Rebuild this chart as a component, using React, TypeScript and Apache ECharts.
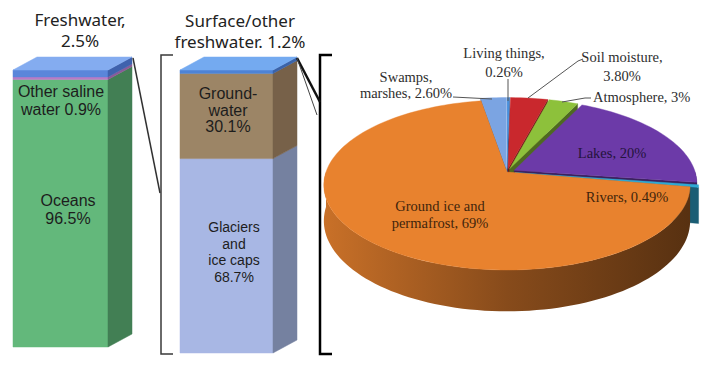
import React, { useEffect, useRef } from "react";
import * as echarts from "echarts";

// ---------- data ----------
const leftCats = ["Oceans", "Other saline water", "Freshwater"];
const leftValues = [96.5, 0.9, 2.5];
const leftLabels = ["Oceans\n96.5%", "Other saline\nwater 0.9%"];

const midCats = ["Glaciers and ice caps", "Ground-water", "Surface/other freshwater"];
const midValues = [68.7, 30.1, 1.2];
const midLabels = ["Glaciers\nand\nice caps\n68.7%", "Ground-\nwater\n30.1%"];

const titles = ["Freshwater,\n2.5%", "Surface/other\nfreshwater. 1.2%"];

const pieNames = [
  "Living things",
  "Soil moisture",
  "Atmosphere",
  "Lakes",
  "Rivers",
  "Ground ice and permafrost",
  "Swamps, marshes",
];
const pieValues = [0.26, 3.8, 3, 20, 0.49, 69, 2.6];
const pieLabels = [
  "Living things,\n0.26%",
  "Soil moisture,\n3.80%",
  "Atmosphere, 3%",
  "Lakes, 20%",
  "Rivers, 0.49%",
  "Ground ice and\npermafrost, 69%",
  "Swamps,\nmarshes, 2.60%",
];

// ---------- styles ----------
const leftFront = ["#63b87b", "#b77cc6", "#5a86da"];
const leftSide = ["#427f54", "#8a5a98", "#3f62ad"];
const leftTop = "#84acf0";
const midFront = ["#a8b7e4", "#9c8566", "#4d83d6"];
const midSide = ["#7581a0", "#776149", "#3b63a8"];
const midTop = "#74aaf0";
const pieColors = ["#4a90dc", "#c9282d", "#8dc13b", "#6c3aa8", "#2fa9d3", "#e8822e", "#7ba4e2"];
const pieExplode = [0.04, 0.04, 0.04, 0.045, 0.045, 0, 0.04];

const PC = { cx: 507, cy: 172, rx: 181, ry: 83, h: 35, k: 0.153 };

function stack(values: number[]) {
  let acc = 0;
  return values.map((v, i) => {
    const s = acc;
    acc += v;
    return [0, s, acc, i];
  });
}
const sum = (a: number[]) => a.reduce((x, y) => x + y, 0);

function shade(hex: string, f: number) {
  const n = parseInt(hex.slice(1), 16);
  const r = Math.round(((n >> 16) & 255) * f);
  const g = Math.round(((n >> 8) & 255) * f);
  const b = Math.round((n & 255) * f);
  return `rgb(${r},${g},${b})`;
}

function barRender(front: string[], side: string[], topColor: string, n: number) {
  return (params: any, api: any) => {
    const s = api.value(1);
    const e = api.value(2);
    const i = api.value(3);
    const p0 = api.coord([0, s]);
    const p1 = api.coord([1, e]);
    const xl = p0[0], yb = p0[1], xr = p1[0], yt = p1[1];
    const dx = 24, dy = -13;
    const children: any[] = [
      {
        type: "polygon",
        shape: { points: [[xl, yb], [xr, yb], [xr, yt], [xl, yt]] },
        style: { fill: front[i], stroke: front[i], lineWidth: 0.5 },
      },
      {
        type: "polygon",
        shape: { points: [[xr, yb], [xr + dx, yb + dy], [xr + dx, yt + dy], [xr, yt]] },
        style: { fill: side[i], stroke: side[i], lineWidth: 0.5 },
      },
    ];
    if (i === n - 1) {
      children.push({
        type: "polygon",
        shape: { points: [[xl, yt], [xr, yt], [xr + dx, yt + dy], [xl + dx, yt + dy]] },
        style: { fill: topColor, stroke: topColor, lineWidth: 0.5 },
      });
    }
    return { type: "group", children };
  };
}

function proj(u: number, v: number, d: number) {
  const w = 1 + PC.k * v;
  return [PC.cx + (PC.rx * u) / w, PC.cy + (-PC.ry * v + PC.h * d) / w];
}

function pieRender(params: any, api: any) {
  const T = Math.PI * 2;
  const a0 = api.value(0) * T;
  const a1 = api.value(1) * T;
  const i = api.value(2);
  const base = pieColors[i];
  const m = (a0 + a1) / 2;
  const e = pieExplode[i];
  const ou = e * Math.sin(m);
  const ov = e * Math.cos(m);
  const rim = (t: number, d: number) => proj(ou + Math.sin(t), ov + Math.cos(t), d);
  const ctr = (d: number) => proj(ou, ov, d);
  const stepA = Math.PI / 90;
  const steps = Math.max(2, Math.ceil((a1 - a0) / stepA));
  const children: any[] = [];
  const topPts: number[][] = [ctr(0)];
  for (let j = 0; j <= steps; j++) topPts.push(rim(a0 + ((a1 - a0) * j) / steps, 0));
  children.push({
    type: "polygon",
    z2: 1000,
    shape: { points: topPts },
    style: { fill: base, stroke: base, lineWidth: 0.4 },
  });
  // outer wall (visible front part only), smooth horizontal shading
  const ts = Math.max(a0, Math.PI / 2);
  const te = Math.min(a1, (3 * Math.PI) / 2);
  if (te > ts) {
    const n = Math.max(2, Math.ceil((te - ts) / stepA));
    const pts: number[][] = [];
    for (let j = 0; j <= n; j++) pts.push(rim(ts + ((te - ts) * j) / n, 0));
    for (let j = n; j >= 0; j--) pts.push(rim(ts + ((te - ts) * j) / n, 1));
    const tm = (ts + te) / 2;
    children.push({
      type: "polygon",
      z2: 500 + Math.round(-(ov + Math.cos(tm)) * 100),
      shape: { points: pts },
      style: {
        fill: {
          type: "linear",
          x: PC.cx - PC.rx,
          y: 0,
          x2: PC.cx + PC.rx,
          y2: 0,
          global: true,
          colorStops: [
            { offset: 0, color: shade(base, 0.86) },
            { offset: 0.5, color: shade(base, 0.58) },
            { offset: 1, color: shade(base, 0.38) },
          ],
        },
      },
    });
  }
  // radial faces
  const faceCol = shade(base, 0.55);
  if (Math.sin(a0) < 0) {
    children.push({
      type: "polygon",
      z2: 500 + Math.round(-(ov + Math.cos(a0) / 2) * 100),
      shape: { points: [ctr(0), rim(a0, 0), rim(a0, 1), ctr(1)] },
      style: { fill: faceCol, stroke: faceCol, lineWidth: 0.4 },
    });
  }
  if (Math.sin(a1) > 0) {
    children.push({
      type: "polygon",
      z2: 500 + Math.round(-(ov + Math.cos(a1) / 2) * 100),
      shape: { points: [ctr(0), rim(a1, 0), rim(a1, 1), ctr(1)] },
      style: { fill: faceCol, stroke: faceCol, lineWidth: 0.4 },
    });
  }
  return { type: "group", children };
}

function buildOption() {
  const leftTotal = sum(leftValues);
  const midTotal = sum(midValues);
  const pieTotal = sum(pieValues);
  let acc = 0;
  const pieData = pieValues.map((v, i) => {
    const s = acc / pieTotal;
    acc += v;
    return { name: pieNames[i], value: [s, acc / pieTotal, i] };
  });

  const sans = '"Liberation Sans", Arial, sans-serif';
  const serif = '"Liberation Serif", serif';
  const titleFont = '17px "Noto Sans", sans-serif';

  const txt = (text: string, x: number, y: number, font: string, fill: string, lineHeight: number, align = "center") => ({
    type: "text",
    z: 100,
    x,
    y,
    style: {
      text,
      font,
      fill,
      lineHeight,
      textAlign: align,
      textVerticalAlign: "middle",
    },
  });

  const graphic: any[] = [
    txt(titles[0], 80, 30, titleFont, "#222", 21),
    txt(titles[1], 240, 31, titleFont, "#222", 21),
    txt(leftLabels[1], 61, 100, "16px " + sans, "#1d1d1d", 18),
    txt(leftLabels[0], 68, 209, "16px " + sans, "#1d1d1d", 18),
    txt(midLabels[1], 228, 110, "16px " + sans, "#1d1d1d", 16.5),
    txt(midLabels[0], 234, 252, "14px " + sans, "#1d1d1d", 16.5),
    // pie labels
    txt(pieLabels[0], 504, 62, "14.5px " + serif, "#2e2e2e", 19),
    txt(pieLabels[1], 622, 66, "14.5px " + serif, "#2e2e2e", 19),
    txt(pieLabels[2], 593, 97, "14.5px " + serif, "#2e2e2e", 18, "left"),
    txt(pieLabels[3], 612, 153, "14.5px " + serif, "#24143c", 18),
    txt(pieLabels[4], 627, 197, "14.5px " + serif, "#42250c", 18),
    txt(pieLabels[5], 440, 214, "14.5px " + serif, "#42250c", 17),
    txt(pieLabels[6], 406, 85, "14.5px " + serif, "#2e2e2e", 16.5),
    // leader lines
    { type: "line", z: 100, shape: { x1: 508, y1: 79, x2: 508, y2: 101 }, style: { stroke: "#555", lineWidth: 1 } },
    { type: "polyline", z: 100, shape: { points: [[583, 59], [578, 61], [528, 98]] }, style: { stroke: "#555", lineWidth: 1, fill: null } },
    { type: "polyline", z: 100, shape: { points: [[591, 98], [585, 98], [562, 102]] }, style: { stroke: "#555", lineWidth: 1, fill: null } },
    { type: "line", z: 100, shape: { x1: 453, y1: 97, x2: 492, y2: 99 }, style: { stroke: "#555", lineWidth: 1 } },
    // brackets
    { type: "polyline", z: 100, shape: { points: [[173, 55], [161, 55], [161, 354], [173, 354]] }, style: { stroke: "#3a3a3a", lineWidth: 1.5, fill: null } },
    { type: "polyline", z: 100, shape: { points: [[332, 55], [320, 55], [320, 354], [332, 354]] }, style: { stroke: "#000", lineWidth: 2.5, fill: null } },
    // connectors
    { type: "line", z: 100, shape: { x1: 133, y1: 58, x2: 160, y2: 193 }, style: { stroke: "#333", lineWidth: 1.5 } },
    { type: "line", z: 100, shape: { x1: 297, y1: 58, x2: 320, y2: 102 }, style: { stroke: "#111", lineWidth: 2.5 } },
    { type: "line", z: 100, shape: { x1: 297, y1: 58, x2: 317, y2: 115 }, style: { stroke: "#444", lineWidth: 1 } },
  ];

  const hiddenAxis = (gridIndex: number, min: number, max: number) => ({
    type: "value",
    gridIndex,
    min,
    max,
    show: false,
    splitLine: { show: false },
  });

  return {
    animation: false,
    backgroundColor: "#ffffff",
    grid: [
      { left: 13, top: 70, width: 95, height: 277 },
      { left: 180, top: 70, width: 93, height: 283 },
    ],
    xAxis: [hiddenAxis(0, 0, 1), hiddenAxis(1, 0, 1)],
    yAxis: [hiddenAxis(0, 0, leftTotal), hiddenAxis(1, 0, midTotal)],
    series: [
      {
        type: "custom",
        name: "Total water",
        xAxisIndex: 0,
        yAxisIndex: 0,
        encode: { x: 0, y: [1, 2] },
        data: stack(leftValues).map((d, i) => ({ name: leftCats[i], value: d })),
        renderItem: barRender(leftFront, leftSide, leftTop, leftValues.length),
      },
      {
        type: "custom",
        name: "Freshwater",
        xAxisIndex: 1,
        yAxisIndex: 1,
        encode: { x: 0, y: [1, 2] },
        data: stack(midValues).map((d, i) => ({ name: midCats[i], value: d })),
        renderItem: barRender(midFront, midSide, midTop, midValues.length),
      },
      {
        type: "custom",
        name: "Surface/other freshwater",
        coordinateSystem: "none",
        data: pieData,
        renderItem: pieRender,
      },
    ],
    graphic,
  };
}

export default function App() {
  const ref = useRef<HTMLDivElement>(null);
  useEffect(() => {
    if (!ref.current) return;
    const chart = echarts.init(ref.current, undefined, { renderer: "svg" });
    chart.setOption(buildOption() as any);
    return () => chart.dispose();
  }, []);
  return (
    <div
      ref={ref}
      style={{ position: "fixed", left: 0, top: 0, width: 708, height: 372, background: "#fff" }}
    />
  );
}
